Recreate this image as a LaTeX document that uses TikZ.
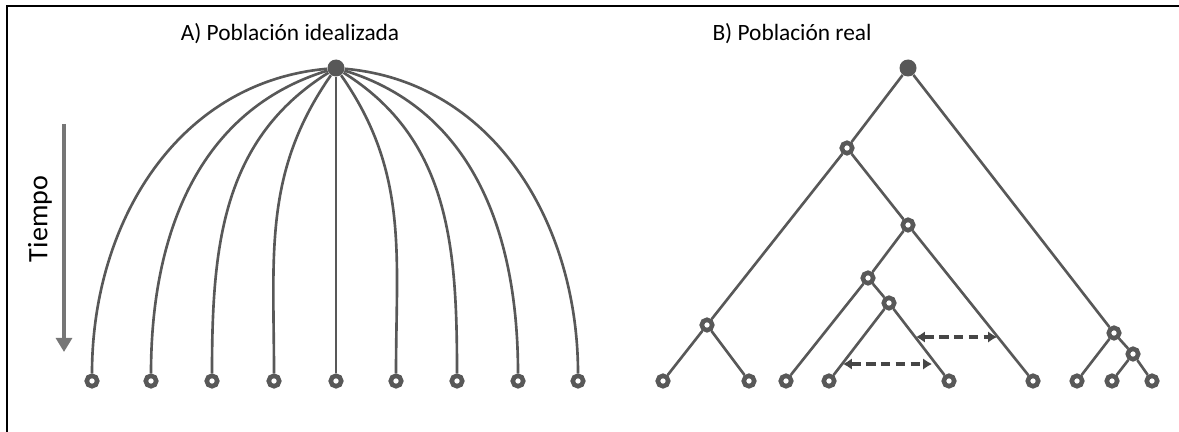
\documentclass[tikz,border=0pt]{standalone}
\usepackage{fontspec}
\setmainfont{Carlito}
\usetikzlibrary{arrows.meta,positioning}
\definecolor{Line}{RGB}{88,88,88}
\definecolor{TimeGray}{RGB}{118,118,118}
\definecolor{DashGray}{RGB}{70,70,70}

\begin{document}
\begin{tikzpicture}[x=0.02cm,y=-0.02cm,
  edge/.style={draw=Line,line width=1.5pt},
  leaf/.style={circle,draw=Line,fill=white,line width=2.6pt,inner sep=0pt,minimum size=0.21cm},
  top/.style={circle,fill=Line,inner sep=0pt,minimum size=0.34cm},
  title/.style={font=\fontsize{13.3}{15}\selectfont,inner sep=0pt},
  gap/.style={draw=DashGray,dash pattern=on 5.5pt off 3pt,{Latex[length=5pt,width=6.5pt]}-{Latex[length=5pt,width=6.5pt]}}]
\useasboundingbox (0,0) rectangle (1179,432);
\draw[black,line width=1.3pt] (7,432) -- (7,6) -- (1179,6);
% titles
\node[title] (ta) at (290,34) {A) Población idealizada};
\node[title] (tb) at (792,34) {B) Población real};
% time axis
\coordinate (t1) at (64,124);
\coordinate (t2) at (64,352);
\draw[TimeGray,line width=2.8pt,-{Triangle[length=8pt,width=9pt]}] (t1) -- (t2);
\node[rotate=90,font=\fontsize{16}{18}\selectfont,inner sep=0pt] (time) at (40,219) {Tiempo};
% A) idealized population
\node[top] (a0) at (336,68) {};
\foreach \i/\x in {1/92,2/151,3/212,4/274,5/336,6/396,7/457,8/518,9/578}
  \node[leaf] (a\i) at (\x,381) {};
\draw[edge] (a1) to[out=90,in=185] (a0);
\draw[edge] (a2) to[out=90,in=197] (a0);
\draw[edge] (a3) to[out=90,in=212] (a0);
\draw[edge] (a4) to[out=90,in=235] (a0);
\draw[edge] (a5) -- (a0);
\draw[edge] (a6) to[out=90,in=305] (a0);
\draw[edge] (a7) to[out=90,in=328] (a0);
\draw[edge] (a8) to[out=90,in=343] (a0);
\draw[edge] (a9) to[out=90,in=355] (a0);
% B) real population
\node[top] (b0) at (908,68) {};
\node[leaf] (b1) at (847,148) {};
\node[leaf] (b2) at (707,325) {};
\node[leaf] (b3) at (908,225) {};
\node[leaf] (b4) at (868,278) {};
\node[leaf] (b5) at (889,303) {};
\node[leaf] (b6) at (1114,333) {};
\node[leaf] (b7) at (1133,354) {};
\foreach \i/\x in {1/663,2/749,3/786,4/829,5/949,6/1033,7/1077,8/1112,9/1152}
  \node[leaf] (l\i) at (\x,381) {};
\draw[edge] (b0) -- (b1);
\draw[edge] (b0) -- (b6);
\draw[edge] (b1) -- (b2);
\draw[edge] (b1) -- (b3);
\draw[edge] (b2) -- (l1);
\draw[edge] (b2) -- (l2);
\draw[edge] (b3) -- (b4);
\draw[edge] (b3) -- (l6);
\draw[edge] (b4) -- (l3);
\draw[edge] (b4) -- (b5);
\draw[edge] (b5) -- (l4);
\draw[edge] (b5) -- (l5);
\draw[edge] (b6) -- (l7);
\draw[edge] (b6) -- (b7);
\draw[edge] (b7) -- (l8);
\draw[edge] (b7) -- (l9);
% distances
\coordinate (u1) at (916,337);
\coordinate (u2) at (997,337);
\coordinate (w1) at (843,364);
\coordinate (w2) at (932,364);
\draw[gap,line width=2pt] (u1) -- (u2);
\draw[gap,line width=2.8pt] (w1) -- (w2);
\end{tikzpicture}
\end{document}
